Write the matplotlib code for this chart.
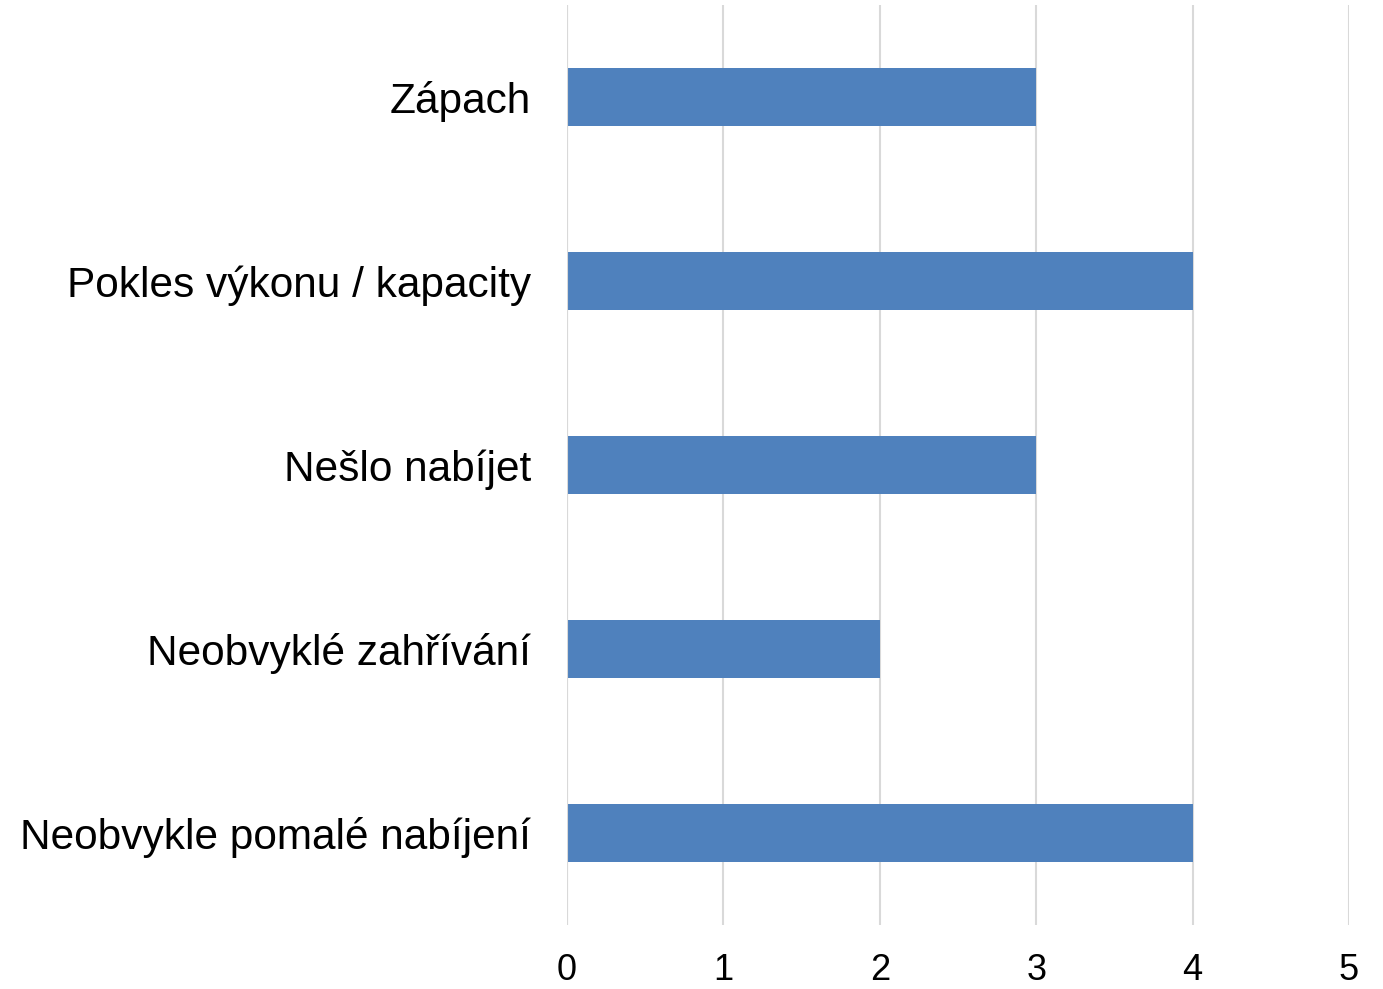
import matplotlib.pyplot as plt

categories = ["Neobvykle pomalé nabíjení", "Neobvyklé zahřívání", "Nešlo nabíjet",
              "Pokles výkonu / kapacity", "Zápach"]
counts = [4, 2, 3, 4, 3]
xticks = [0, 1, 2, 3, 4, 5]

plt.rcParams['font.family'] = ['Liberation Sans', 'DejaVu Sans']

fig = plt.figure(figsize=(13.83, 9.89), dpi=100)
ax = fig.add_axes([0.41, 0.0647, 0.5654, 0.9303])

ax.barh(range(len(categories)), counts, height=0.315, color="#4F81BD", zorder=2)

ax.set_xlim(0, 5)
ax.set_ylim(-0.5, len(categories) - 0.5)
ax.set_xticks(xticks)
ax.set_yticks(range(len(categories)))
ax.set_yticklabels(categories)
ax.grid(axis="x", color="#D9D9D9", linewidth=1.5, zorder=0)
ax.axvline(0, color="#D9D9D9", linewidth=1.5, zorder=3)
for s in ax.spines.values():
    s.set_visible(False)
ax.tick_params(axis="x", length=0, pad=20, labelsize=26)
ax.tick_params(axis="y", length=0, pad=26, labelsize=30.5)

fig.savefig("out.png", dpi=100)
